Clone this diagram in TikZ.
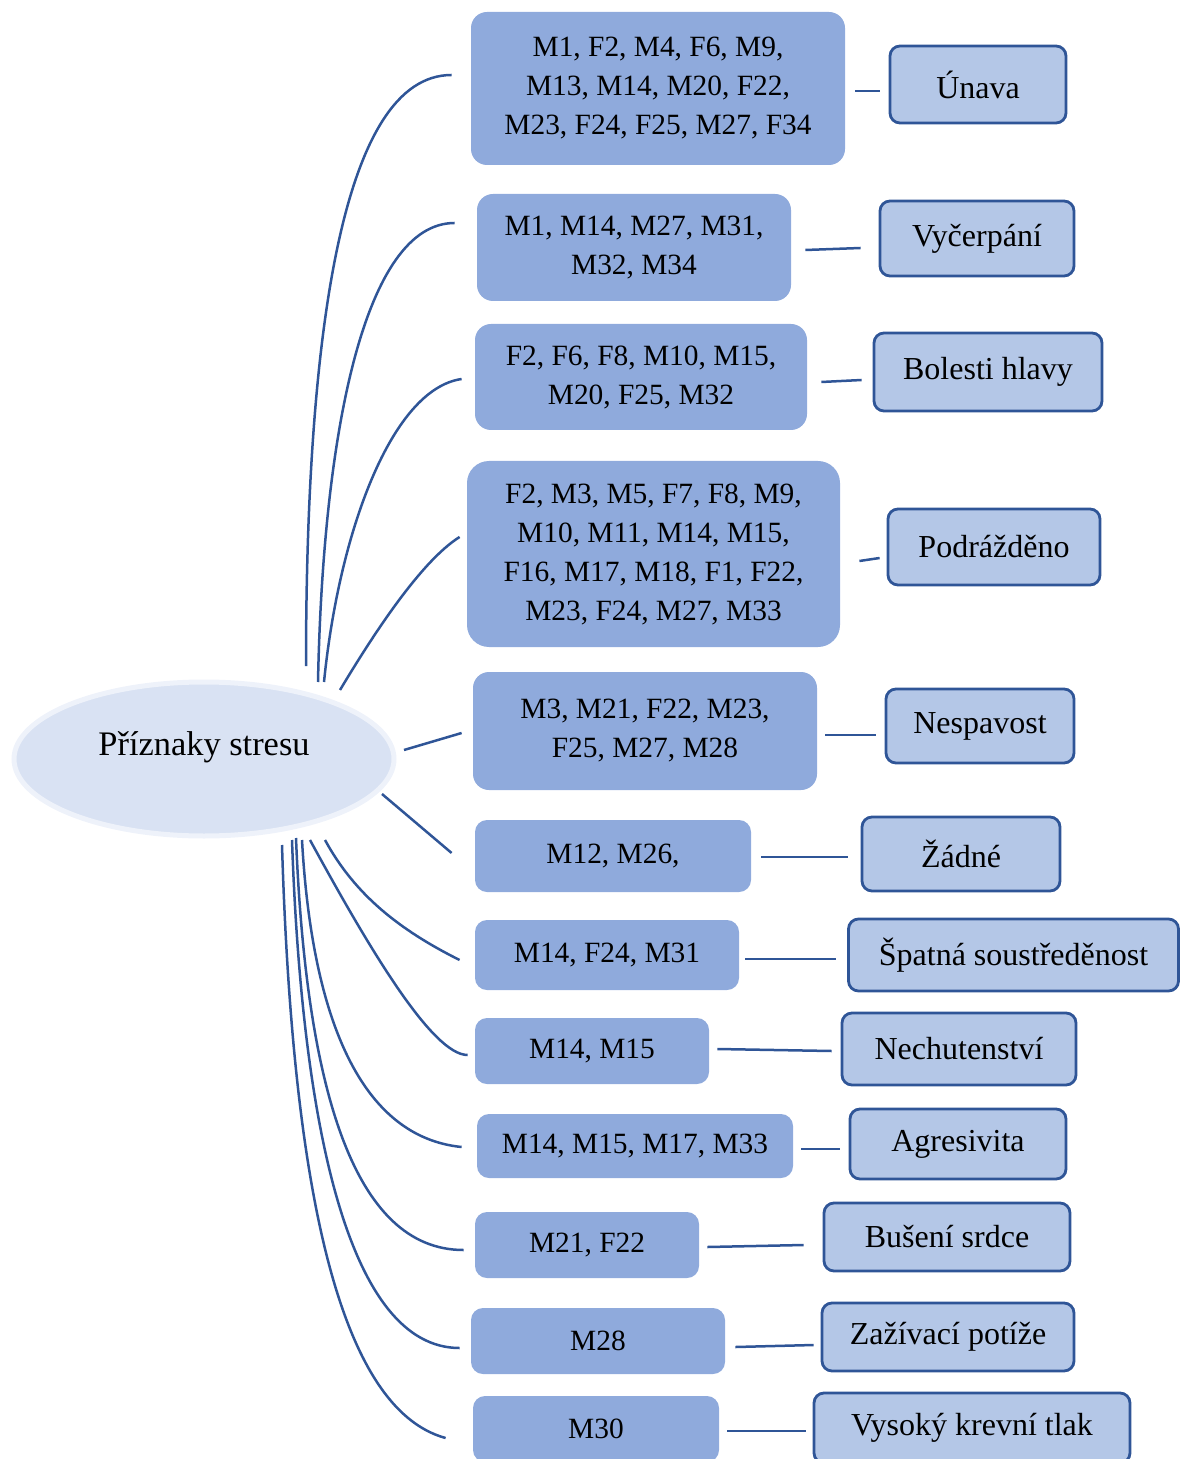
\documentclass[tikz,border=0pt]{standalone}
\usepackage{fontspec}
\setmainfont{Liberation Serif}
\usetikzlibrary{calc,shapes.geometric}
\definecolor{linkblue}{HTML}{2F5597}
\definecolor{midfill}{HTML}{8FAADC}
\definecolor{symfill}{HTML}{B4C7E7}
\definecolor{ovalfill}{HTML}{D9E2F3}
\definecolor{ovalrim}{HTML}{EEF2FA}
\begin{document}
\begin{tikzpicture}[x=0.5pt,y=-0.5pt,
  txt/.style={font=\fontsize{14.7}{19.5}\selectfont},
  bigtxt/.style={font=\fontsize{16}{19.5}\selectfont},
  groupbox/.style={txt,draw=none,fill=midfill,rounded corners=8pt,align=center,inner sep=0pt},
  symbox/.style={bigtxt,draw=linkblue,line width=1.4pt,fill=symfill,rounded corners=5pt,align=center,inner sep=0pt},
  link/.style={draw=linkblue,line width=1.25pt},
]
\useasboundingbox (0,0) rectangle (1180,1459);

% central oval
\node[ellipse,fill=ovalfill,draw=ovalrim,line width=2.5pt,minimum width=190pt,minimum height=77pt,inner sep=0pt,
      label={[font=\fontsize{17.2}{20}\selectfont,yshift=6pt]center:Příznaky stresu}] (c) at (204,759) {};

% participant groups
\node[groupbox,minimum width=187pt,minimum height=76.5pt] (m1) at (658,88.5) {M1, F2, M4, F6, M9,\\M13, M14, M20, F22,\\M23, F24, F25, M27, F34};
\node[groupbox,minimum width=157pt,minimum height=53.5pt] (m2) at (634,247.5) {M1, M14, M27, M31,\\M32, M34};
\node[groupbox,minimum width=166pt,minimum height=53pt] (m3) at (641,377) {F2, F6, F8, M10, M15,\\M20, F25, M32};
\node[groupbox,minimum width=186.5pt,minimum height=93pt,rounded corners=11pt] (m4) at (653.5,554) {F2, M3, M5, F7, F8, M9,\\M10, M11, M14, M15,\\F16, M17, M18, F1, F22,\\M23, F24, M27, M33};
\node[groupbox,minimum width=172pt,minimum height=59pt] (m5) at (645,731) {M3, M21, F22, M23,\\F25, M27, M28};
\node[groupbox,minimum width=138pt,minimum height=36pt,rounded corners=6pt] (m6) at (613,856) {M12, M26,};
\node[groupbox,minimum width=132pt,minimum height=35pt,rounded corners=6pt] (m7) at (607,955) {M14, F24, M31};
\node[groupbox,minimum width=117pt,minimum height=33pt,rounded corners=6pt] (m8) at (592,1051) {M14, M15};
\node[groupbox,minimum width=158pt,minimum height=32pt,rounded corners=6pt] (m9) at (635,1146) {M14, M15, M17, M33};
\node[groupbox,minimum width=112pt,minimum height=33pt,rounded corners=6pt] (m10) at (587,1245) {M21, F22};
\node[groupbox,minimum width=127pt,minimum height=33pt,rounded corners=6pt] (m11) at (598,1341) {M28};
\node[groupbox,minimum width=123pt,minimum height=33pt,rounded corners=6pt] (m12) at (596,1429) {M30};

% symptoms
\node[symbox,minimum width=88pt,minimum height=38.5pt] (r1) at (978,84.5) {Únava};
\node[symbox,minimum width=97pt,minimum height=37.5pt] (r2) at (977,238.5) {Vyčerpání};
\node[symbox,minimum width=114pt,minimum height=39pt] (r3) at (988,372) {Bolesti hlavy};
\node[symbox,minimum width=106pt,minimum height=38pt] (r4) at (994,547) {Podrážděno};
\node[symbox,minimum width=94pt,minimum height=37pt] (r5) at (980,726) {Nespavost};
\node[symbox,minimum width=99pt,minimum height=37pt] (r6) at (961,854) {Žádné};
\node[symbox,minimum width=165pt,minimum height=36pt] (r7) at (1013.5,955) {Špatná soustředěnost};
\node[symbox,minimum width=117pt,minimum height=36pt] (r8) at (959,1049) {Nechutenství};
\node[symbox,minimum width=108pt,minimum height=35pt] (r9) at (958,1144) {Agresivita};
\node[symbox,minimum width=123pt,minimum height=34pt] (r10) at (947,1237) {Bušení srdce};
\node[symbox,minimum width=126pt,minimum height=34pt] (r11) at (948,1337) {Zažívací potíže};
\node[symbox,minimum width=158pt,minimum height=35pt] (r12) at (972,1428) {Vysoký krevní tlak};

% group -> symptom
\draw[link] ($(m1.east)+(10,2.5)$) -- ($(r1.west)+(-9,6.5)$);
\draw[link] ($(m2.east)+(14,2.5)$) -- ($(r2.west)+(-18,9.5)$);
\draw[link] ($(m3.east)+(14,5)$) -- ($(r3.west)+(-11,8)$);
\draw[link] ($(m4.east)+(19,7)$) -- ($(r4.west)+(-7,11)$);
\draw[link] ($(m5.east)+(8,4)$) -- ($(r5.west)+(-9,9)$);
\draw[link] ($(m6.east)+(10,1)$) -- ($(r6.west)+(-13,3)$);
\draw[link] ($(m7.east)+(6,4)$) -- ($(r7.west)+(-11,4)$);
\draw[link] ($(m8.east)+(8,-2)$) -- ($(r8.west)+(-9,2)$);
\draw[link] ($(m9.east)+(8,3)$) -- ($(r9.west)+(-9,5)$);
\draw[link] ($(m10.east)+(8,2)$) -- ($(r10.west)+(-19,8)$);
\draw[link] ($(m11.east)+(10,6)$) -- ($(r11.west)+(-7,8)$);
\draw[link] ($(m12.east)+(8,2)$) -- ($(r12.west)+(-7,3)$);

% oval -> groups
\coordinate (s1) at (306,666);
\coordinate (s2) at (318,682);
\coordinate (s3) at (324,682);
\coordinate (s4) at (340,690);
\coordinate (s5) at (404,750);
\coordinate (s6) at (382,794);
\coordinate (s7) at (325,840);
\coordinate (s8) at (310,840);
\coordinate (s9) at (302,840);
\coordinate (s10) at (296,838);
\coordinate (s11) at (292,840);
\coordinate (s12) at (282,845);

\draw[link] (s1) .. controls +(0,-330) and +(-110,0) .. ($(m1.west)+(-19,-13.5)$);
\draw[link] (s2) .. controls +(5,-250) and +(-90,0) .. ($(m2.west)+(-22,-24.5)$);
\draw[link] (s3) .. controls +(15,-150) and +(-70,10) .. ($(m3.west)+(-13,2)$);
\draw[link] (s4) .. controls +(30,-50) and +(-40,25) .. ($(m4.west)+(-7,-17)$);
\draw[link] (s5) -- ($(m5.west)+(-11,2)$);
\draw[link] (s6) -- ($(m6.west)+(-23,-3)$);
\draw[link] (s7) .. controls +(30,55) and +(-60,-30) .. ($(m7.west)+(-15,5)$);
\draw[link] (s8) .. controls +(60,110) and +(-35,0) .. ($(m8.west)+(-7,4)$);
\draw[link] (s9) .. controls +(10,180) and +(-100,-10) .. ($(m9.west)+(-15,1)$);
\draw[link] (s10) .. controls +(10,250) and +(-110,0) .. ($(m10.west)+(-11,5)$);
\draw[link] (s11) .. controls +(10,290) and +(-110,0) .. ($(m11.west)+(-11,7)$);
\draw[link] (s12) .. controls +(10,330) and +(-110,-30) .. ($(m12.west)+(-27,9)$);
\end{tikzpicture}
\end{document}
